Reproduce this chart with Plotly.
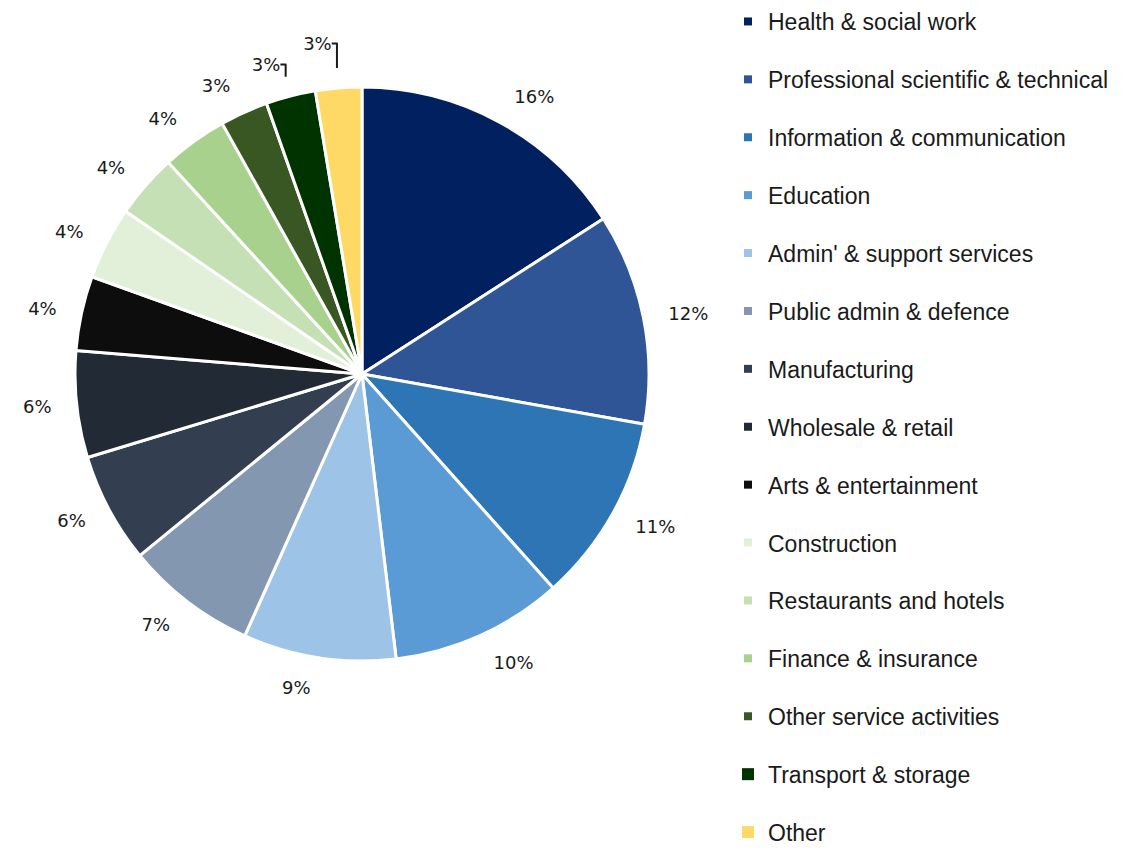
import plotly.graph_objects as go

# Share of employment by industry (percent)
industries = [
    "Health & social work",
    "Professional scientific & technical",
    "Information & communication",
    "Education",
    "Admin' & support services",
    "Public admin & defence",
    "Manufacturing",
    "Wholesale & retail",
    "Arts & entertainment",
    "Construction",
    "Restaurants and hotels",
    "Finance & insurance",
    "Other service activities",
    "Transport & storage",
    "Other",
]
shares = [15.9, 11.9, 10.6, 9.7, 8.6, 7.4, 6.2, 6.0, 4.2, 4.1, 3.6, 3.7, 2.7, 2.8, 2.6]
colors = [
    "#002060", "#2F5597", "#2E75B6", "#5B9BD5", "#9DC3E6",
    "#8497B0", "#333F50", "#222A35", "#0D0D0D", "#E2F0D9",
    "#C5E0B4", "#A9D18E", "#385723", "#003300", "#FFD966",
]
legend_marker_sizes = [8] * 13 + [12, 12]

W, H = 1125, 853
cx, cy, r = 362, 374, 287
r_label = r + 20  # radius of the invisible ring that carries the percent labels


def domain(radius):
    return dict(x=[(cx - radius) / W, (cx + radius) / W],
                y=[1 - (cy + radius) / H, 1 - (cy - radius) / H])


fig = go.Figure()
fig.add_trace(go.Pie(
    labels=industries,
    values=shares,
    sort=False,
    direction="clockwise",
    rotation=0,
    marker=dict(colors=colors, line=dict(color="white", width=3)),
    textinfo="none",
    showlegend=False,
    domain=domain(r),
    hoverinfo="label+percent",
))

# Transparent, slightly larger pie: only its outside percent labels show,
# which sets them a little away from the slices
fig.add_trace(go.Pie(
    labels=industries,
    values=shares,
    sort=False,
    direction="clockwise",
    rotation=0,
    marker=dict(colors=["rgba(0,0,0,0)"] * len(shares), line=dict(width=0)),
    textposition="outside",
    texttemplate="%{percent:.0%}",
    textfont=dict(family="DejaVu Sans", size=18, color="#1a1a1a"),
    showlegend=False,
    domain=domain(r_label),
    hoverinfo="skip",
))

# Legend entries, one group each so the rows can be spaced apart
for name, col, sz in zip(industries, colors, legend_marker_sizes):
    fig.add_trace(go.Scatter(
        x=[None], y=[None], mode="markers", name=name, legendgroup=name,
        marker=dict(symbol="square", size=sz, color=col),
        hoverinfo="skip",
    ))

fig.update_layout(
    width=W, height=H,
    margin=dict(l=0, r=0, t=0, b=0),
    paper_bgcolor="white", plot_bgcolor="white",
    xaxis=dict(visible=False), yaxis=dict(visible=False),
    legend=dict(
        x=728 / W, y=1, xanchor="left", yanchor="top",
        maxheight=1200,
        font=dict(family="Liberation Sans", size=23, color="#1a1a1a"),
        tracegroupgap=25, itemsizing="trace",
        bgcolor="rgba(0,0,0,0)",
    ),
)

fig.write_html("out.html")
